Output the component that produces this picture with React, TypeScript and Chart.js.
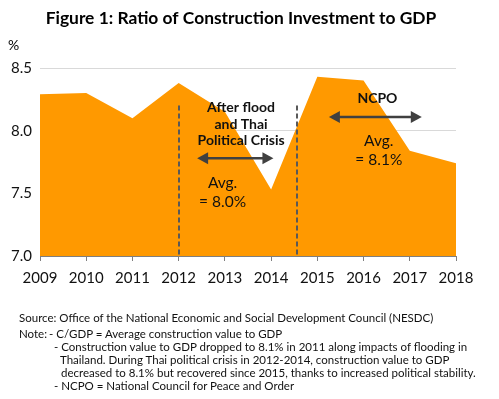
import React, { useEffect, useRef } from "react";
import { Chart, registerables } from "chart.js";

Chart.register(...registerables);

const years = ["2009", "2010", "2011", "2012", "2013", "2014", "2015", "2016", "2017", "2018"];
const ratio = [8.29, 8.3, 8.1, 8.38, 8.15, 7.53, 8.43, 8.4, 7.84, 7.74];
const yMin = 7.0;
const yMax = 8.5;
const yStep = 0.5;

const titleText = "Figure 1: Ratio of Construction Investment to GDP";
const unitText = "%";
const period1Lines = ["After flood", "and Thai", "Political Crisis"];
const avg1Lines = ["Avg.", "= 8.0%"];
const period2Lines = ["NCPO"];
const avg2Lines = ["Avg.", "= 8.1%"];
const sourceLine = "Source: Office of the National Economic and Social Development Council (NESDC)";
const noteLabel = "Note:";
const noteLines = [
  "- C/GDP = Average construction value to GDP",
  "- Construction value to GDP dropped to 8.1% in 2011 along impacts of flooding in",
  "Thailand. During Thai political crisis in 2012-2014, construction value to GDP",
  "decreased to 8.1% but recovered since 2015, thanks to increased political stability.",
  "- NCPO = National Council for Peace and Order",
];

const FONT = "Lato, 'Open Sans', sans-serif";
const ORANGE = "#FF9900";
const DARK = "#404040";

function drawArrow(ctx: CanvasRenderingContext2D, x1: number, x2: number, y: number) {
  const head = 11;
  const half = 6;
  ctx.save();
  ctx.strokeStyle = DARK;
  ctx.fillStyle = DARK;
  ctx.lineWidth = 2.5;
  ctx.beginPath();
  ctx.moveTo(x1 + head - 2, y);
  ctx.lineTo(x2 - head + 2, y);
  ctx.stroke();
  ctx.beginPath();
  ctx.moveTo(x1, y);
  ctx.lineTo(x1 + head, y - half);
  ctx.lineTo(x1 + head, y + half);
  ctx.closePath();
  ctx.fill();
  ctx.beginPath();
  ctx.moveTo(x2, y);
  ctx.lineTo(x2 - head, y - half);
  ctx.lineTo(x2 - head, y + half);
  ctx.closePath();
  ctx.fill();
  ctx.restore();
}

const annotPlugin = {
  id: "annot",
  afterDatasetsDraw(chart: any) {
    const { ctx, scales } = chart;
    const x = scales.x;
    const y = scales.y;
    const px = (v: number) => x.getPixelForValue(v);
    const py = (v: number) => y.getPixelForValue(v);

    // dashed separators
    ctx.save();
    ctx.strokeStyle = "#595959";
    ctx.lineWidth = 2;
    ctx.setLineDash([5, 3]);
    [3, 5.55].forEach((v) => {
      ctx.beginPath();
      ctx.moveTo(Math.round(px(v)), py(8.2));
      ctx.lineTo(Math.round(px(v)), py(yMin));
      ctx.stroke();
    });
    ctx.restore();

    // arrows
    drawArrow(ctx, px(3.4), px(5.05), py(7.78));
    drawArrow(ctx, px(6.25), px(8.26), py(8.11));

    ctx.save();
    ctx.textAlign = "center";
    ctx.textBaseline = "middle";
    ctx.fillStyle = "#111111";
    ctx.font = `bold 14px ${FONT}`;
    period1Lines.forEach((t, i) => ctx.fillText(t, px(4.35), py(8.185) + i * 16.7));
    period2Lines.forEach((t, i) => ctx.fillText(t, px(7.3), py(8.255) + i * 16.7));
    ctx.font = `15.5px ${FONT}`;
    avg1Lines.forEach((t, i) => ctx.fillText(t, px(3.95), py(7.585) + i * 19));
    avg2Lines.forEach((t, i) => ctx.fillText(t, px(7.33), py(7.915) + i * 18.5));
    ctx.restore();

    // title and unit
    ctx.save();
    ctx.fillStyle = "#000000";
    ctx.textBaseline = "middle";
    ctx.textAlign = "center";
    ctx.font = `bold 17.4px ${FONT}`;
    ctx.fillText(titleText, 241, 18);
    ctx.textAlign = "left";
    ctx.font = `14px ${FONT}`;
    ctx.fillText(unitText, 8, 45);
    ctx.restore();
  },
};

export default function App() {
  const ref = useRef<HTMLCanvasElement | null>(null);

  useEffect(() => {
    if (!ref.current) return;
    const chart = new Chart(ref.current, {
      type: "line",
      data: {
        labels: years,
        datasets: [
          {
            data: ratio,
            fill: "start",
            backgroundColor: ORANGE,
            borderWidth: 0,
            borderColor: ORANGE,
            pointRadius: 0,
            tension: 0,
          },
        ],
      },
      options: {
        animation: false,
        responsive: false,
        maintainAspectRatio: false,
        layout: { padding: { top: 68, right: 43, bottom: 103, left: 0 } },
        plugins: {
          legend: { display: false },
          tooltip: { enabled: false },
          title: { display: false },
        },
        scales: {
          x: {
            type: "category",
            offset: false,
            grid: {
              drawOnChartArea: false,
              drawTicks: true,
              tickLength: 5,
              color: "#7f7f7f",
            },
            border: { display: true, color: "#7f7f7f", width: 1 },
            ticks: {
              color: "#111111",
              font: { family: FONT, size: 15 },
              padding: 8,
              maxRotation: 0,
              autoSkip: false,
            },
            afterFit: (s: any) => {
              s.height = 40;
            },
          },
          y: {
            min: yMin,
            max: yMax,
            grid: { color: "#d9d9d9", drawTicks: false, lineWidth: 1 },
            border: { display: false },
            ticks: {
              stepSize: yStep,
              color: "#111111",
              font: { family: FONT, size: 15 },
              padding: 8,
              callback: (v: any) => Number(v).toFixed(1),
            },
            afterFit: (s: any) => {
              s.width = 40;
            },
          },
        },
      },
      plugins: [annotPlugin],
    });
    return () => chart.destroy();
  }, []);

  const noteStyle: React.CSSProperties = {
    position: "absolute",
    fontFamily: FONT,
    fontSize: 11.5,
    color: "#111111",
    whiteSpace: "nowrap",
    lineHeight: "13px",
  };

  return (
    <div style={{ position: "fixed", left: 0, top: 0, width: 499, height: 399, background: "#fff" }}>
      <canvas ref={ref} width={499} height={399} style={{ position: "absolute", left: 0, top: 0 }} />
      <div style={{ ...noteStyle, left: 19, top: 311 }}>{sourceLine}</div>
      <div style={{ ...noteStyle, left: 19, top: 327 }}>{noteLabel}</div>
      <div style={{ ...noteStyle, left: 49, top: 327 }}>{noteLines[0]}</div>
      <div style={{ ...noteStyle, left: 54, top: 340 }}>{noteLines[1]}</div>
      <div style={{ ...noteStyle, left: 60, top: 353 }}>{noteLines[2]}</div>
      <div style={{ ...noteStyle, left: 61, top: 366 }}>{noteLines[3]}</div>
      <div style={{ ...noteStyle, left: 54, top: 379 }}>{noteLines[4]}</div>
    </div>
  );
}
